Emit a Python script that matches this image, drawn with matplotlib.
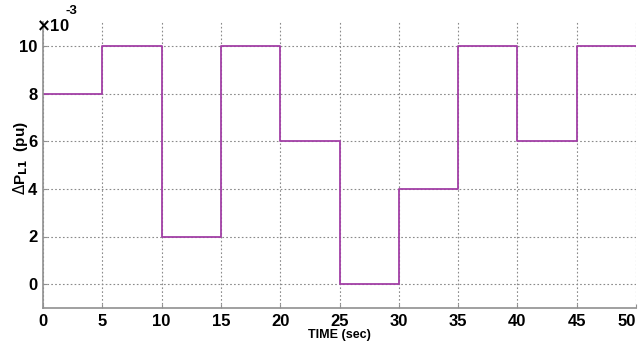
import matplotlib
matplotlib.use("Agg")
import matplotlib.pyplot as plt
import numpy as np

edges = [0, 5, 10, 15, 20, 25, 30, 35, 40, 45, 50]
values = [8, 10, 2, 10, 6, 0, 4, 10, 6, 10]
xticks = [0, 5, 10, 15, 20, 25, 30, 35, 40, 45, 50]
yticks = [0, 2, 4, 6, 8, 10]

plt.rcParams['font.family'] = ['Liberation Sans Narrow', 'Liberation Sans', 'DejaVu Sans']

fig = plt.figure(figsize=(6.4, 3.51), dpi=100)
ax = fig.add_axes([43/640, 1 - 308/351, (636 - 43)/640, (308 - 22)/351])

y = values + [values[-1]]
ax.step(edges, y, where='post', color='#a23fa6', lw=1.3)

ax.set_xlim(0, 50)
ax.set_ylim(-1, 11)
ax.set_xticks(xticks)
ax.set_yticks(yticks)
ax.set_xticklabels([str(t) for t in xticks], fontsize=12, fontweight='bold')
ax.set_yticklabels([str(t) for t in yticks], fontsize=12, fontweight='bold')
ax.get_xticklabels()[-1].set_horizontalalignment('right')
ax.grid(True, linestyle=(0, (1.5, 2)), color='#8a8a8a', lw=0.8)
for s in ['top', 'right']:
    ax.spines[s].set_visible(False)
for s in ['left', 'bottom']:
    ax.spines[s].set_color('#909090')
    ax.spines[s].set_linewidth(1.2)
ax.tick_params(length=3, color='#909090', direction='in', pad=4)

ax.set_xlabel('TIME (sec)', fontsize=9, fontweight='bold', labelpad=0)
fig.text(20/640, 1 - 158/351, r'$\Delta$P$_{\mathbf{L1}}$  (pu)', fontsize=11, fontweight='bold',
         rotation=90, ha='center', va='center')
fig.text(36/640, 1 - 34/351, r'$\mathbf{\times}$10', fontsize=12, fontweight='bold', va='bottom')
fig.text(66/640, 1 - 17/351, '-3', fontsize=9.5, fontweight='bold', va='bottom')

fig.savefig('out.png', dpi=100)
